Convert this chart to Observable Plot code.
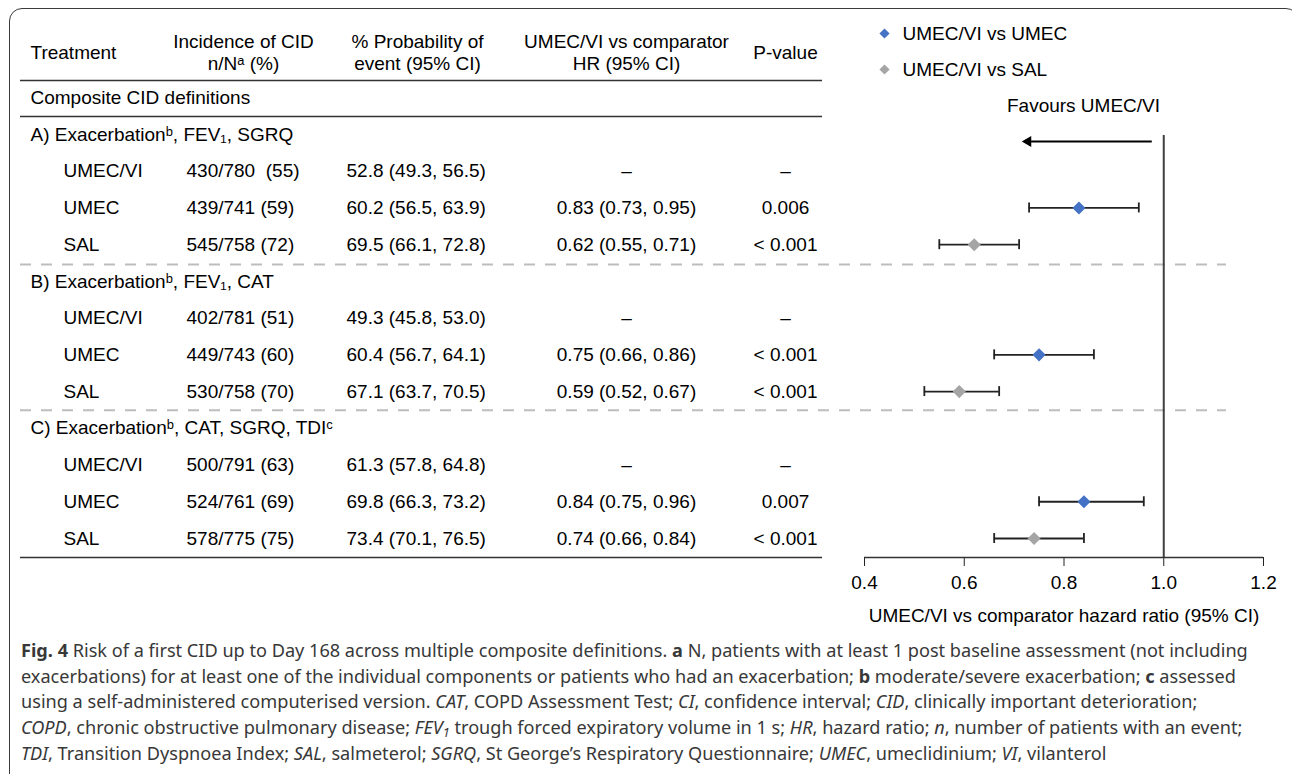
<!DOCTYPE html>
<html><head><meta charset="utf-8">
<script src="https://cdn.jsdelivr.net/npm/d3@7"></script>
<script src="https://cdn.jsdelivr.net/npm/@observablehq/plot@0.6"></script>
<style>
html,body{margin:0;padding:0;background:#fff;width:1292px;height:774px;overflow:hidden;}
#frame{position:absolute;left:9px;top:8px;width:1290px;height:900px;border:1.5px solid #3a3a3a;border-radius:13px;box-sizing:border-box;}
#chart{position:absolute;left:0;top:0;}
#caption{position:absolute;left:21px;top:638px;font-family:"Noto Sans",sans-serif;font-size:17px;line-height:25.7px;color:#383838;white-space:nowrap;}
#caption div{display:block;height:25.7px;}
#caption span.l{display:inline-block;}
#caption sub{font-size:0.7em;line-height:0;vertical-align:-0.25em;}
</style></head>
<body>
<div id="frame"></div>
<div id="chart"></div>
<div id="caption">
<div><span class="l" id="l1"><b>Fig. 4</b> Risk of a first CID up to Day 168 across multiple composite definitions. <b>a</b> N, patients with at least 1 post baseline assessment (not including</span></div>
<div>exacerbations) for at least one of the individual components or patients who had an exacerbation; <b>b</b> moderate/severe exacerbation; <b>c</b> assessed</div>
<div>using a self-administered computerised version. <i>CAT</i>, COPD Assessment Test; <i>CI</i>, confidence interval; <i>CID</i>, clinically important deterioration;</div>
<div><i>COPD</i>, chronic obstructive pulmonary disease; <i>FEV<sub>1</sub></i> trough forced expiratory volume in 1 s; <i>HR</i>, hazard ratio; <i>n</i>, number of patients with an event;</div>
<div><i>TDI</i>, Transition Dyspnoea Index; <i>SAL</i>, salmeterol; <i>SGRQ</i>, St George’s Respiratory Questionnaire; <i>UMEC</i>, umeclidinium; <i>VI</i>, vilanterol</div>
</div>
<script>
// ---- data ----
const treatments = ["UMEC/VI", "UMEC", "SAL"];
const groupLabels = [
  "A) Exacerbationᵇ, FEV₁, SGRQ",
  "B) Exacerbationᵇ, FEV₁, CAT",
  "C) Exacerbationᵇ, CAT, SGRQ, TDIᶜ"
];
const sectionLabel = "Composite CID definitions";
const headerLabels = ["Treatment", "Incidence of CID\nn/Nᵃ (%)", "% Probability of\nevent (95% CI)", "UMEC/VI vs comparator\nHR (95% CI)", "P-value"];
const eventsN = [[430, 439, 545], [402, 449, 530], [500, 524, 578]];
const totalN = [[780, 741, 758], [781, 743, 758], [791, 761, 775]];
const incidencePct = [[55, 59, 72], [51, 60, 70], [63, 69, 75]];
const probEst = [[52.8, 60.2, 69.5], [49.3, 60.4, 67.1], [61.3, 69.8, 73.4]];
const probLo = [[49.3, 56.5, 66.1], [45.8, 56.7, 63.7], [57.8, 66.3, 70.1]];
const probHi = [[56.5, 63.9, 72.8], [53.0, 64.1, 70.5], [64.8, 73.2, 76.5]];
const hrEst = [[null, 0.83, 0.62], [null, 0.75, 0.59], [null, 0.84, 0.74]];
const hrLo = [[null, 0.73, 0.55], [null, 0.66, 0.52], [null, 0.75, 0.66]];
const hrHi = [[null, 0.95, 0.71], [null, 0.86, 0.67], [null, 0.96, 0.84]];
const pValues = [["–", "0.006", "< 0.001"], ["–", "< 0.001", "< 0.001"], ["–", "0.007", "< 0.001"]];
const seriesNames = ["UMEC/VI vs UMEC", "UMEC/VI vs SAL"];
const seriesColors = ["#4472C4", "#A5A5A5"];
const xTicks = [0.4, 0.6, 0.8, 1.0, 1.2];
const xLabel = "UMEC/VI vs comparator hazard ratio (95% CI)";
const favoursLabel = "Favours UMEC/VI";

// ---- derived table ----
const rows = [];
groupLabels.forEach((g, gi) => {
  treatments.forEach((t, ti) => {
    rows.push({
      row: 2 + gi * 4 + ti,
      treatment: t,
      incidence: `${eventsN[gi][ti]}/${totalN[gi][ti]}${gi === 0 && ti === 0 ? "  " : " "}(${incidencePct[gi][ti]})`,
      prob: `${probEst[gi][ti].toFixed(1)} (${probLo[gi][ti].toFixed(1)}, ${probHi[gi][ti].toFixed(1)})`,
      hrText: hrEst[gi][ti] == null ? "–" : `${hrEst[gi][ti].toFixed(2)} (${hrLo[gi][ti].toFixed(2)}, ${hrHi[gi][ti].toFixed(2)})`,
      p: pValues[gi][ti],
      hr: hrEst[gi][ti], lo: hrLo[gi][ti], hi: hrHi[gi][ti],
      series: ti === 1 ? seriesNames[0] : ti === 2 ? seriesNames[1] : null
    });
  });
});
const groupRows = groupLabels.map((g, gi) => ({row: 1 + gi * 4, label: g}));
const hrRows = rows.filter(d => d.hr != null);
const legendRows = seriesNames.map((s, i) => ({series: s, row: i === 0 ? -1.75 : -0.77}));

const W = 1292;
const headerCols = [
  {dx: 30, anchor: "start"}, {dx: 243, anchor: "middle"}, {dx: 417, anchor: "middle"},
  {dx: 626, anchor: "middle"}, {dx: 785, anchor: "middle"}
];
const txt = {frameAnchor: "left", fill: "#000"};

const marks = [
  // table rules
  Plot.ruleY([-0.47, 0.51, 12.52], {stroke: "#333", strokeWidth: 1.5, insetLeft: 20, insetRight: W - 822}),
  Plot.ruleY([4.54, 8.51], {stroke: "#bdbdbd", strokeWidth: 2, strokeDasharray: "11,10", insetLeft: 20, insetRight: W - 1226}),
  // axis line and reference line
  Plot.ruleY([12.52], {x1: 0.4, x2: 1.2, stroke: "#333", strokeWidth: 1.5}),
  Plot.ruleX([1], {y1: 1.03, y2: 12.52, stroke: "#404040", strokeWidth: 2}),
  // favours arrow
  Plot.ruleY([1.19], {x1: 0.735, x2: 0.977, stroke: "#000", strokeWidth: 2}),
  Plot.dot([1.19], {x: 0.728, y: d => d, symbol: "triangle2", rotate: -90, r: 5.2, fill: "#000", stroke: "none"}),
  Plot.text([favoursLabel], {...txt, y: 0.21, dx: 1083, textAnchor: "middle"}),
  // error bars
  Plot.ruleY(hrRows, {y: "row", x1: "lo", x2: "hi", stroke: "#222", strokeWidth: 1.8}),
  Plot.ruleX(hrRows, {x: "lo", y1: "row", y2: "row", insetTop: -5, insetBottom: -5, stroke: "#222", strokeWidth: 1.8}),
  Plot.ruleX(hrRows, {x: "hi", y1: "row", y2: "row", insetTop: -5, insetBottom: -5, stroke: "#222", strokeWidth: 1.8}),
  Plot.dot(hrRows, {x: "hr", y: "row", fill: "series", symbol: "diamond2", r: 5.9, stroke: "none"}),
  // legend
  Plot.dot(legendRows, {y: "row", fill: "series", symbol: "diamond2", r: 4.6, stroke: "none", frameAnchor: "left", dx: 884}),
  Plot.text(legendRows, {...txt, y: "row", text: "series", dx: 902, textAnchor: "start"}),
  // headers
  ...headerLabels.map((h, i) => Plot.text([h], {...txt, y: -1.26, dx: headerCols[i].dx, textAnchor: headerCols[i].anchor, lineHeight: 1.16})),
  Plot.text([sectionLabel], {...txt, y: 0, dx: 30, textAnchor: "start"}),
  Plot.text(groupRows, {...txt, y: "row", text: "label", dx: 30, textAnchor: "start"}),
  // table body
  Plot.text(rows, {...txt, y: "row", text: "treatment", dx: 63, textAnchor: "start"}),
  Plot.text(rows, {...txt, y: "row", text: "incidence", dx: 186, textAnchor: "start"}),
  Plot.text(rows, {...txt, y: "row", text: "prob", dx: 346, textAnchor: "start"}),
  Plot.text(rows, {...txt, y: "row", text: "hrText", dx: 626, textAnchor: "middle"}),
  Plot.text(rows, {...txt, y: "row", text: "p", dx: 785, textAnchor: "middle"}),
  // axis title
  Plot.text([xLabel], {x: 0.8, y: 14.12, fill: "#000", textAnchor: "middle"})
];

const plot = Plot.plot({
  width: W, height: 640,
  marginLeft: 0, marginRight: 0, marginTop: 0, marginBottom: 83,
  style: {fontFamily: "'Liberation Sans', Arial, sans-serif", fontSize: "19px", color: "#222", background: "transparent", overflow: "visible"},
  x: {domain: [0.4, 1.2], range: [864, 1263], ticks: xTicks, tickFormat: d3.format(".1f"), tickSize: 9, tickPadding: 9, label: null},
  y: {domain: [1, 12], range: [134, 538], axis: null},
  color: {domain: seriesNames, range: seriesColors},
  marks
});
plot.querySelectorAll('g[aria-label="x-axis tick label"] text, g[aria-label="x-axis"] text').forEach(t => t.setAttribute("fill", "#000"));
plot.querySelectorAll("text").forEach(t => t.setAttribute("xml:space", "preserve"));
plot.querySelectorAll("text").forEach(t => t.style.whiteSpace = "pre");
document.getElementById("chart").appendChild(plot);

// fit caption width to reference line length
const l1 = document.getElementById("l1");
const w = l1.getBoundingClientRect().width;
const cap = document.getElementById("caption");
cap.style.fontSize = (17 * 1228 / w).toFixed(2) + "px";
</script>
</body></html>
